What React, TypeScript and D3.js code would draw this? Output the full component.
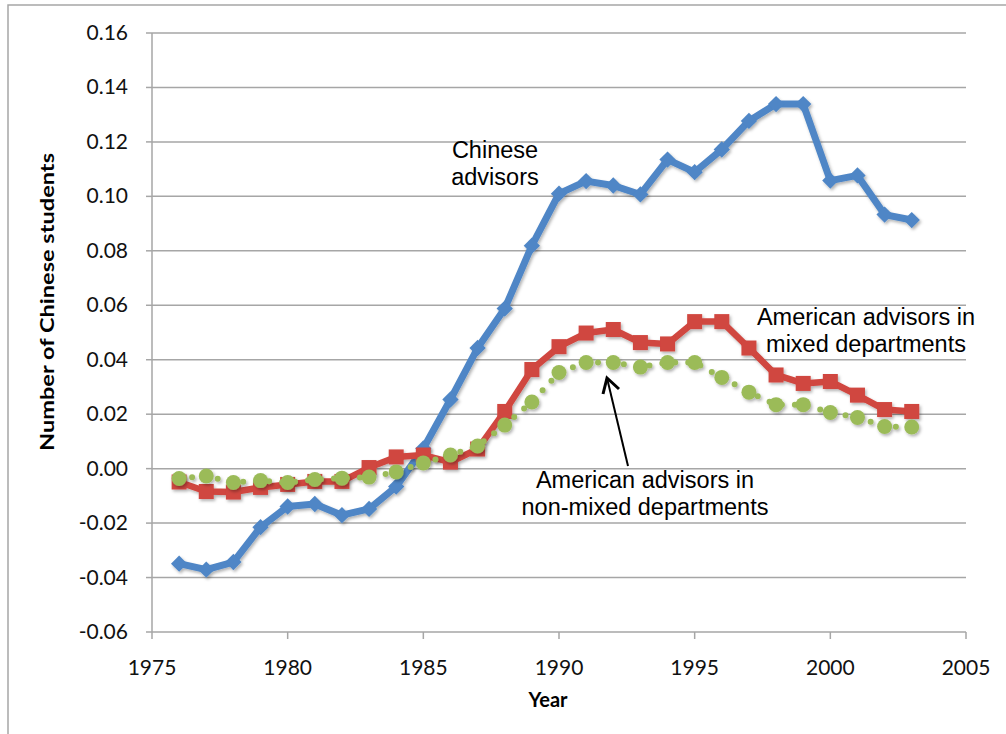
import React, { useEffect, useRef } from 'react';
import * as d3 from 'd3';

// Years on the x axis
const years = d3.range(1976, 2004);

// Chinese advisors
const chineseAdvisors = [
  -0.0349, -0.0371, -0.0343, -0.0215, -0.0139, -0.013, -0.0171, -0.0148, -0.0066, 0.0074,
  0.0254, 0.0443, 0.0588, 0.0819, 0.101, 0.1056, 0.104, 0.1007, 0.1135, 0.1089,
  0.1172, 0.1277, 0.1339, 0.1339, 0.1058, 0.1077, 0.0933, 0.0913,
];

// American advisors in mixed departments
const americanMixed = [
  -0.0049, -0.0084, -0.0086, -0.0069, -0.0058, -0.0047, -0.0047, 0.0004, 0.0043, 0.005,
  0.0024, 0.0072, 0.021, 0.0364, 0.0448, 0.0498, 0.0511, 0.0463, 0.0458, 0.054,
  0.054, 0.0443, 0.0344, 0.0313, 0.032, 0.027, 0.0217, 0.021,
];

// American advisors in non-mixed departments
const americanNonMixed = [
  -0.0036, -0.0027, -0.0051, -0.0044, -0.0051, -0.004, -0.0035, -0.0031, -0.0012, 0.0021,
  0.005, 0.0083, 0.016, 0.0245, 0.0353, 0.039, 0.039, 0.0373, 0.039, 0.039,
  0.0335, 0.0281, 0.0235, 0.0235, 0.0206, 0.0188, 0.0155, 0.0153,
];

const xTicks = [1975, 1980, 1985, 1990, 1995, 2000, 2005];
const yTicks = [-0.06, -0.04, -0.02, 0, 0.02, 0.04, 0.06, 0.08, 0.1, 0.12, 0.14, 0.16];

const W = 1006;
const H = 734;
const tickFont = 'Lato, "Open Sans", sans-serif';
const noteFont = '"Liberation Sans", Arial, sans-serif';

const App = () => {
  const ref = useRef<SVGSVGElement | null>(null);

  useEffect(() => {
    const svg = d3.select(ref.current);
    svg.selectAll('*').remove();

    const x = d3.scaleLinear().domain([1975, 2005]).range([152, 966]);
    const y = d3.scaleLinear().domain([-0.06, 0.16]).range([632, 33]);

    const defs = svg.append('defs');
    const f = defs.append('filter').attr('id', 'shadow')
      .attr('x', '-20%').attr('y', '-20%').attr('width', '140%').attr('height', '140%');
    f.append('feDropShadow')
      .attr('dx', 1.5).attr('dy', 2).attr('stdDeviation', 1.6)
      .attr('flood-color', '#000').attr('flood-opacity', 0.3);

    // outer frame
    svg.append('rect')
      .attr('x', 8).attr('y', 5).attr('width', W + 20).attr('height', H + 20)
      .attr('fill', 'white').attr('stroke', '#a6a6a6').attr('stroke-width', 1.5);

    // gridlines
    svg.append('g').selectAll('line')
      .data(yTicks.filter(t => t > -0.06))
      .join('line')
      .attr('x1', x(1975)).attr('x2', x(2005))
      .attr('y1', d => y(d)).attr('y2', d => y(d))
      .attr('stroke', '#a6a6a6').attr('stroke-width', 1.5);

    // y axis
    const yAxis = svg.append('g');
    yAxis.append('line')
      .attr('x1', x(1975)).attr('x2', x(1975)).attr('y1', y(0.16)).attr('y2', y(-0.06))
      .attr('stroke', '#a6a6a6').attr('stroke-width', 1.5);
    yAxis.selectAll('line.tick').data(yTicks).join('line').attr('class', 'tick')
      .attr('x1', x(1975) - 6).attr('x2', x(1975))
      .attr('y1', d => y(d)).attr('y2', d => y(d))
      .attr('stroke', '#a6a6a6').attr('stroke-width', 1.5);
    yAxis.selectAll('text').data(yTicks).join('text')
      .attr('x', 128).attr('y', d => y(d) + 7)
      .attr('text-anchor', 'end')
      .attr('font-family', tickFont).attr('font-size', 21).attr('fill', '#111')
      .text(d => (d < 0 ? '-' : '') + Math.abs(d).toFixed(2));

    // x axis
    const xAxis = svg.append('g');
    xAxis.append('line')
      .attr('x1', x(1975)).attr('x2', x(2005)).attr('y1', y(-0.06)).attr('y2', y(-0.06))
      .attr('stroke', '#a6a6a6').attr('stroke-width', 1.5);
    xAxis.selectAll('line.tick').data(xTicks).join('line').attr('class', 'tick')
      .attr('x1', d => x(d)).attr('x2', d => x(d))
      .attr('y1', y(-0.06)).attr('y2', y(-0.06) + 7)
      .attr('stroke', '#a6a6a6').attr('stroke-width', 1.5);
    xAxis.selectAll('text').data(xTicks).join('text')
      .attr('x', d => x(d)).attr('y', 675)
      .attr('text-anchor', 'middle')
      .attr('font-family', tickFont).attr('font-size', 21).attr('fill', '#111')
      .text(d => d);

    // axis titles
    svg.append('text')
      .attr('transform', 'translate(54,302) rotate(-90)')
      .attr('text-anchor', 'middle')
      .attr('font-family', tickFont).attr('font-weight', 700).attr('font-size', 19)
      .attr('textLength', 298).attr('lengthAdjust', 'spacingAndGlyphs')
      .text('Number of Chinese students');
    svg.append('text')
      .attr('x', 548).attr('y', 707)
      .attr('text-anchor', 'middle')
      .attr('font-family', tickFont).attr('font-weight', 700).attr('font-size', 20)
      .text('Year');

    const line = d3.line<number>().x((_, i) => x(years[i])).y(d => y(d));

    // Chinese advisors
    const gBlue = svg.append('g').attr('filter', 'url(#shadow)');
    gBlue.append('path').datum(chineseAdvisors)
      .attr('d', line).attr('fill', 'none')
      .attr('stroke', '#4f86c6').attr('stroke-width', 7).attr('stroke-linejoin', 'round');
    gBlue.selectAll('path.m').data(chineseAdvisors).join('path').attr('class', 'm')
      .attr('d', d3.symbol(d3.symbolDiamond2, 170))
      .attr('transform', (d, i) => `translate(${x(years[i])},${y(d)})`)
      .attr('fill', '#4f86c6');

    // American advisors, mixed departments
    const gRed = svg.append('g').attr('filter', 'url(#shadow)');
    gRed.append('path').datum(americanMixed)
      .attr('d', line).attr('fill', 'none')
      .attr('stroke', '#d0463f').attr('stroke-width', 6.5).attr('stroke-linejoin', 'round');
    gRed.selectAll('rect').data(americanMixed).join('rect')
      .attr('x', (d, i) => x(years[i]) - 7.5).attr('y', d => y(d) - 7.5)
      .attr('width', 15).attr('height', 15)
      .attr('fill', '#d0463f');

    // American advisors, non-mixed departments
    const gGreen = svg.append('g').attr('filter', 'url(#shadow)');
    gGreen.append('path').datum(americanNonMixed)
      .attr('d', line).attr('fill', 'none')
      .attr('stroke', '#9bbb59').attr('stroke-width', 6)
      .attr('stroke-linecap', 'round').attr('stroke-dasharray', '0 13');
    gGreen.selectAll('circle').data(americanNonMixed).join('circle')
      .attr('cx', (d, i) => x(years[i])).attr('cy', d => y(d))
      .attr('r', 7.5)
      .attr('fill', '#9bbb59');

    // annotations
    const notes = [
      { lines: ['Chinese', 'advisors'], cx: 495, by: 158 },
      { lines: ['American advisors in', 'mixed departments'], cx: 866, by: 325 },
      { lines: ['American advisors in', 'non-mixed departments'], cx: 645, by: 488 },
    ];
    notes.forEach(n => {
      const t = svg.append('text')
        .attr('font-family', noteFont).attr('font-size', 23.5).attr('fill', '#000')
        .attr('text-anchor', 'middle');
      n.lines.forEach((s, i) => {
        t.append('tspan').attr('x', n.cx).attr('y', n.by + i * 27).text(s);
      });
    });

    // arrow
    const tip = [607, 378];
    svg.append('line')
      .attr('x1', 628).attr('y1', 466).attr('x2', tip[0]).attr('y2', tip[1])
      .attr('stroke', '#000').attr('stroke-width', 2);
    svg.append('path')
      .attr('d', `M${tip[0] - 4},${tip[1] + 16} L${tip[0]},${tip[1]} L${tip[0] + 12},${tip[1] + 11}`)
      .attr('fill', 'none').attr('stroke', '#000').attr('stroke-width', 3)
      .attr('stroke-linejoin', 'miter');
  }, []);

  return (
    <div style={{ position: 'fixed', top: 0, left: 0, width: W, height: H, background: 'white' }}>
      <svg ref={ref} width={W} height={H} style={{ display: 'block' }} />
    </div>
  );
};

export default App;
